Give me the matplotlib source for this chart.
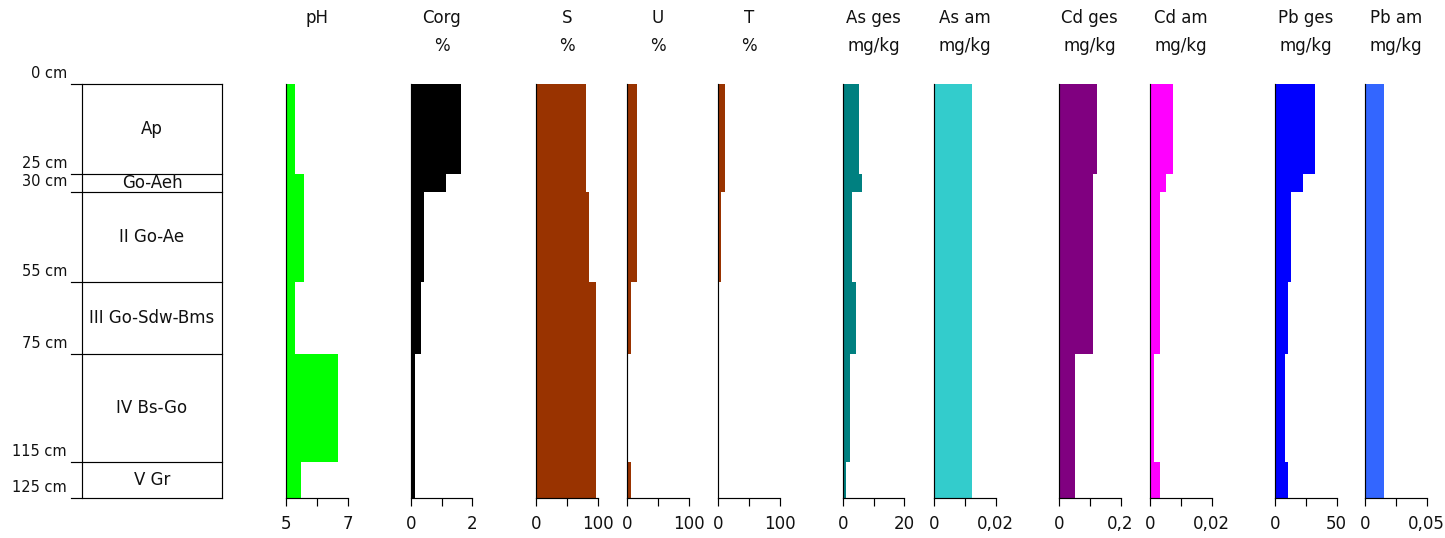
import matplotlib
matplotlib.use("Agg")
import matplotlib.pyplot as plt
import matplotlib.transforms as mtransforms

# horizon boundaries as drawn (cm) and the labels printed next to them
depth_top = [0, 25, 30, 55, 75, 105]
depth_bot = [25, 30, 55, 75, 105, 115]
boundaries = [0, 25, 30, 55, 75, 105, 115]
depth_labels = ["0 cm", "25 cm", "30 cm", "55 cm", "75 cm", "115 cm", "125 cm"]
horizons = ["Ap", "Go-Aeh", "II Go-Ae", "III Go-Sdw-Bms", "IV Bs-Go", "V Gr"]

# values per horizon
ph = [5.3, 5.6, 5.6, 5.3, 6.7, 5.5]
corg = [1.63, 1.13, 0.42, 0.33, 0.12, 0.12]
sand = [82, 82, 86, 97, 97, 97]
silt = [16, 16, 16, 6.5, 0, 6.5]
clay = [11, 11, 5.5, 0, 0, 0]
as_ges = [5.2, 6.2, 3.0, 4.1, 2.2, 1.1]
as_am = [0.0123, 0.0123, 0.0123, 0.0123, 0.0123, 0.0123]
cd_ges = [0.123, 0.112, 0.112, 0.112, 0.052, 0.052]
cd_am = [0.0074, 0.0052, 0.0032, 0.0032, 0.0013, 0.0032]
pb_ges = [32.9, 23.0, 12.8, 10.7, 8.3, 10.7]
pb_am = [0.0154, 0.0154, 0.0154, 0.0154, 0.0154, 0.0154]

# title lines, axis range, tick labels, colour
panels = [
    (["pH"], ph, (5, 7), ["5", "", "7"], "#00FF00"),
    (["Corg", "%"], corg, (0, 2), ["0", "", "2"], "#000000"),
    (["S", "%"], sand, (0, 100), ["0", "", "100"], "#993300"),
    (["U", "%"], silt, (0, 100), ["0", "", "100"], "#993300"),
    (["T", "%"], clay, (0, 100), ["0", "", "100"], "#993300"),
    (["As ges", "mg/kg"], as_ges, (0, 20), ["0", "", "20"], "#008080"),
    (["As am", "mg/kg"], as_am, (0, 0.02), ["0", "", "0,02"], "#33CCCC"),
    (["Cd ges", "mg/kg"], cd_ges, (0, 0.2), ["0", "", "0,2"], "#800080"),
    (["Cd am", "mg/kg"], cd_am, (0, 0.02), ["0", "", "0,02"], "#FF00FF"),
    (["Pb ges", "mg/kg"], pb_ges, (0, 50), ["0", "", "50"], "#0000FF"),
    (["Pb am", "mg/kg"], pb_am, (0, 0.05), ["0", "", "0,05"], "#3366FF"),
]
panel_left_px = [286, 411, 536, 627, 718, 843, 934, 1059, 1150, 1275, 1365]
panel_w_px = 61.5

W, H = 1445, 538
TOP_PX, BOT_PX = 84, 498
FS = 12
LW = 0.85

plt.rcParams["font.family"] = ["DejaVu Sans"]
fig = plt.figure(figsize=(W / 100, H / 100), dpi=100)


def px_box(x0, x1):
    return [x0 / W, 1 - BOT_PX / H, (x1 - x0) / W, (BOT_PX - TOP_PX) / H]


# soil profile column
BOX_L, BOX_R = 82, 222
pax = fig.add_axes(px_box(BOX_L, BOX_R))
pax.set_xlim(0, 1)
pax.set_ylim(depth_bot[-1], 0)
pax.set_xticks([])
pax.set_yticks([])
for side in ["top", "bottom"]:
    pax.spines[side].set_visible(False)
for side in ["left", "right"]:
    pax.spines[side].set_linewidth(LW)
trans = mtransforms.blended_transform_factory(pax.transAxes, pax.transData)
line_start = -(BOX_L - 71) / (BOX_R - BOX_L)
label_x = -(BOX_L - 67) / (BOX_R - BOX_L)
for d, lab in zip(boundaries, depth_labels):
    pax.plot([line_start, 1], [d, d], color="black", lw=LW, transform=trans,
             clip_on=False)
    pax.annotate(lab, xy=(label_x, d), xycoords=trans, xytext=(0, 4),
                 textcoords="offset points", ha="right", va="baseline",
                 fontsize=FS - 1.5, color="#111111")
for top, bot, name in zip(depth_top, depth_bot, horizons):
    pax.text(0.5, (top + bot) / 2, name, transform=trans, ha="center",
             va="center", fontsize=FS, color="#111111")

# property panels
for (title, vals, (lo, hi), ticklabels, color), left in zip(panels, panel_left_px):
    ax = fig.add_axes(px_box(left, left + panel_w_px))
    widths = [v - lo for v in vals]
    heights = [b - t for t, b in zip(depth_top, depth_bot)]
    ax.barh(depth_top, widths, height=heights, left=lo, align="edge",
            color=color, linewidth=0)
    ax.set_xlim(lo, hi)
    ax.set_ylim(depth_bot[-1], 0)
    ax.set_yticks([])
    ax.set_xticks([lo, (lo + hi) / 2, hi])
    ax.set_xticklabels(ticklabels)
    ax.tick_params(axis="x", direction="out", length=5.5, width=LW, pad=7,
                   labelsize=FS, labelcolor="#111111")
    for side in ["top", "right"]:
        ax.spines[side].set_visible(False)
    for side in ["left", "bottom"]:
        ax.spines[side].set_linewidth(LW)
    cx = (left + panel_w_px / 2) / W
    for i, line in enumerate(title):
        fig.text(cx, 1 - (18 + 28 * i) / H, line, ha="center", va="center",
                 fontsize=FS, color="#111111")

fig.savefig("out.png", dpi=100)
